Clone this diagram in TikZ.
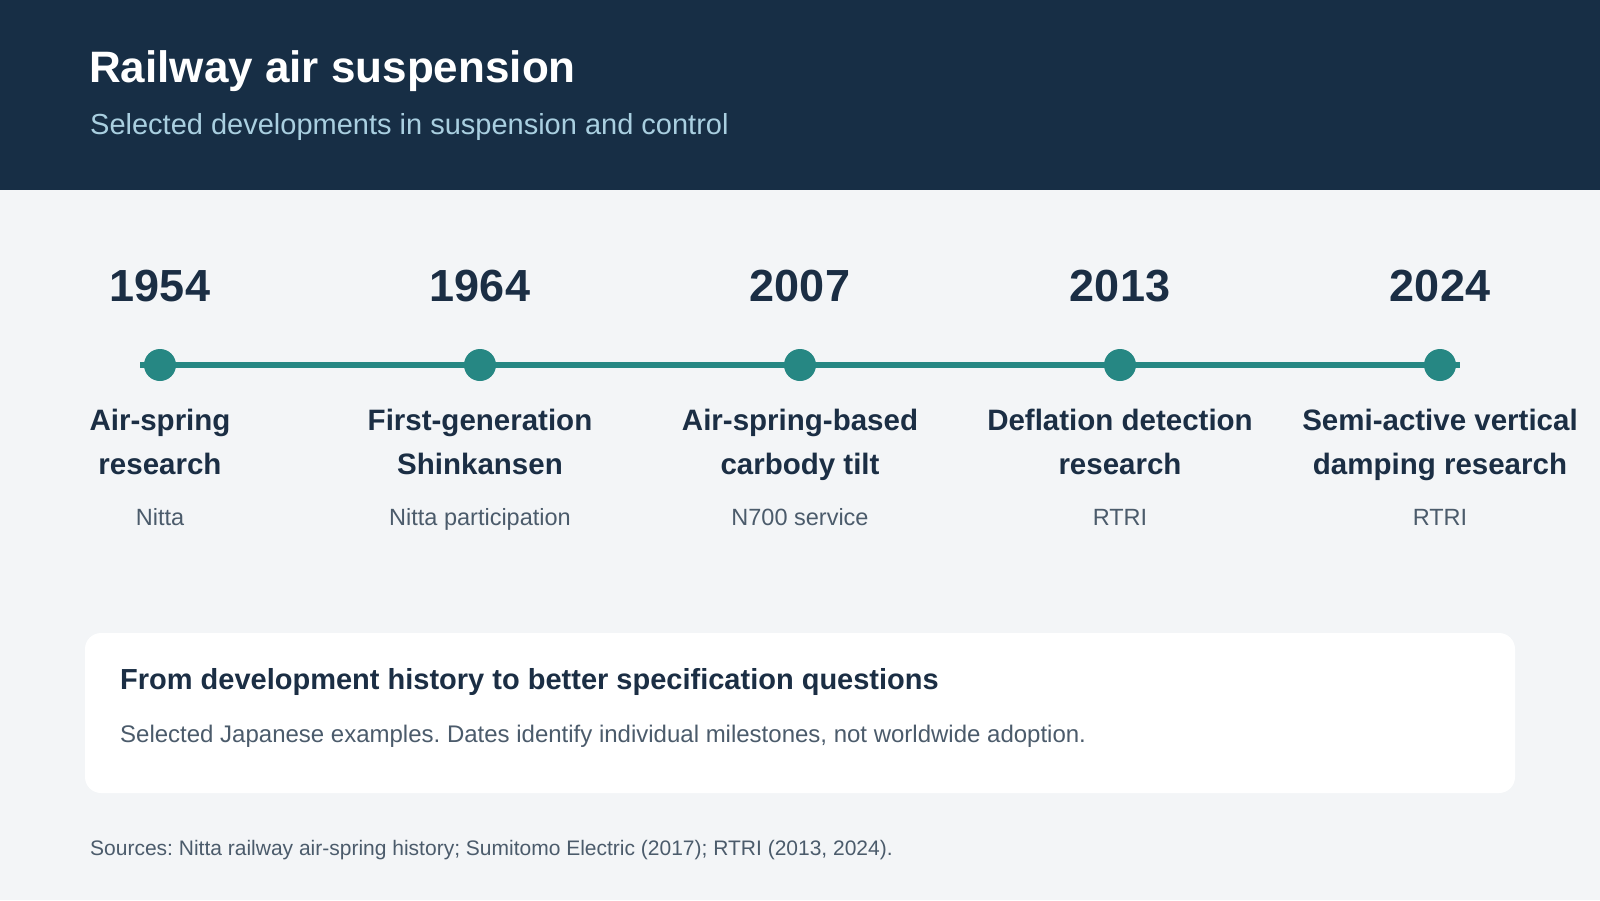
\documentclass[tikz,border=0pt]{standalone}
\usepackage{fontspec}
\setmainfont{Liberation Sans}
\frenchspacing
\definecolor{hdr}{HTML}{172E45}
\definecolor{pagebg}{HTML}{F3F5F7}
\definecolor{subt}{HTML}{A9CFE0}
\definecolor{teal}{HTML}{268783}
\definecolor{navy}{HTML}{1B2E44}
\definecolor{graytxt}{HTML}{4B5B6B}
\tikzset{
  yearlbl/.style={anchor=base, text=navy, inner sep=0pt, font=\fontsize{45}{54}\selectfont\bfseries},
  evtitle/.style={anchor=base, text=navy, inner sep=0pt, align=center, font=\fontsize{29.5}{44}\selectfont\bfseries},
  evsub/.style={anchor=base, text=graytxt, inner sep=0pt, font=\fontsize{23.5}{28}\selectfont},
  dot/.style={circle, fill=teal, minimum size=32pt, inner sep=0pt},
  tline/.style={draw=teal, line width=6pt},
}
\begin{document}
\begin{tikzpicture}[x=1pt,y=-1pt]
\useasboundingbox (0,0) rectangle (1600,900);
\fill[pagebg] (0,0) rectangle (1600,900);
\fill[hdr] (0,0) rectangle (1600,190);
\node[anchor=base west, inner sep=0pt, text=white, font=\fontsize{44}{52}\selectfont\bfseries] (title) at (89,82) {Railway air suspension};
\node[anchor=base west, inner sep=0pt, text=subt, font=\fontsize{29}{35}\selectfont] (subtitle) at (90,134) {Selected developments in suspension and control};

% timeline
\coordinate (ls) at (140,365);
\coordinate (le) at (1460,365);
\draw[tline] (ls) -- (le);
\foreach \i/\x in {1/160,2/480,3/800,4/1120,5/1440} {
  \node[dot] (d\i) at (\x,365) {};
}
\node[yearlbl] (y1) at (160,301) {1954};
\node[yearlbl] (y2) at (480,301) {1964};
\node[yearlbl] (y3) at (800,301) {2007};
\node[yearlbl] (y4) at (1120,301) {2013};
\node[yearlbl] (y5) at (1440,301) {2024};

\node[evtitle] (t1) at (160,474) {Air-spring\\research};
\node[evtitle] (t2) at (480,474) {First-generation\\Shinkansen};
\node[evtitle] (t3) at (800,474) {Air-spring-based\\carbody tilt};
\node[evtitle] (t4) at (1120,474) {Deflation detection\\research};
\node[evtitle] (t5) at (1440,474) {Semi-active vertical\\damping research};

\node[evsub] (s1) at (160,525) {Nitta};
\node[evsub] (s2) at (480,525) {Nitta participation};
\node[evsub] (s3) at (800,525) {N700 service};
\node[evsub] (s4) at (1120,525) {RTRI};
\node[evsub] (s5) at (1440,525) {RTRI};

% card
\fill[white, rounded corners=16pt] (85,633) rectangle (1515,793);
\node[anchor=base west, inner sep=0pt, text=navy, font=\fontsize{29}{35}\selectfont\bfseries] (cardhead) at (120,689) {From development history to better specification questions};
\node[anchor=base west, inner sep=0pt, text=graytxt, font=\fontsize{24}{29}\selectfont] (cardbody) at (120,742) {Selected Japanese examples. Dates identify individual milestones, not worldwide adoption.};

\node[anchor=base west, inner sep=0pt, text=graytxt, font=\fontsize{21}{25}\selectfont] (sources) at (90,855) {Sources: Nitta railway air-spring history; Sumitomo Electric (2017); RTRI (2013, 2024).};
\end{tikzpicture}
\end{document}
